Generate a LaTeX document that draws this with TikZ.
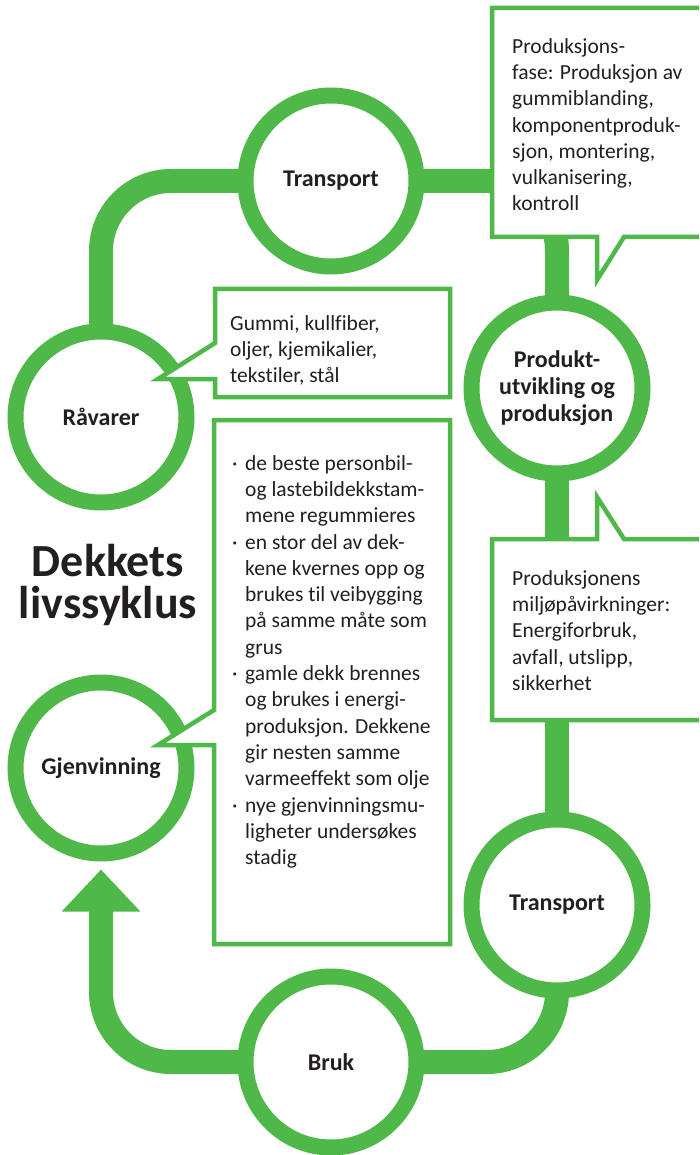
\documentclass[tikz,border=0pt]{standalone}
\usepackage{fontspec}
\setmainfont{Carlito}[Ligatures={NoCommon}]
\usepackage{tikz}
\usetikzlibrary{arrows.meta}

\definecolor{tiregreen}{RGB}{78,184,72}
\definecolor{inkblack}{RGB}{35,31,32}

\pgfdeclarelayer{background}
\pgfsetlayers{background,main}

\newcommand{\bul}{\makebox[13pt][l]{·}}
\newcommand{\ind}{\hspace*{13pt}}

\begin{document}
\begin{tikzpicture}[
    x=1pt, y=-1pt,
    stage/.style={circle, draw=tiregreen, line width=16pt, fill=white, minimum size=171pt, inner sep=0pt, align=center, text=inkblack, font=\fontsize{24}{27}\selectfont\bfseries},
    track/.style={draw=tiregreen, line width=24pt, rounded corners=70pt},
    bubble/.style={draw=tiregreen, line width=4.5pt, fill=white},
    bubbletext/.style={anchor=north west, inner sep=0pt, align=left, text=inkblack, font=\fontsize{21.5}{26.3}\selectfont},
    headline/.style={align=center, inner sep=0pt, text=inkblack, font=\fontsize{46}{42}\selectfont\bfseries}
]
\useasboundingbox (0,0) rectangle (699,1155);
\clip (0,0) rectangle (699,1155);

% Stages of the cycle
\node[stage] (transporttop) at (331,181) {Transport};
\node[stage] (ravarer) at (101,417) {Råvarer};
\node[stage] (produkt) at (557,388) {Produkt-\\utvikling og\\produksjon};
\node[stage] (transportbot) at (557,905) {Transport};
\node[stage] (bruk) at (331,1062) {Bruk};
\node[stage] (gjenvinning) at (101,768) {Gjenvinning};

% Track between the stages
\begin{pgfonlayer}{background}
\draw[track] (transporttop.center) -| (ravarer.center);
\draw[track] (transporttop.center) -| (produkt.center);
\draw[track] (produkt.center) -- (transportbot.center);
\draw[track] (transportbot.center) |- (bruk.center);
\draw[track, -{Triangle[length=42pt, width=76pt]}] (bruk.center) -| ([yshift=-8pt]gjenvinning.south);
\end{pgfonlayer}

% Callout boxes
\draw[bubble] (492,8) -- (712,8) -- (712,237) -- (624,237) -- (597,280) -- (597,237) -- (492,237) -- cycle;
\draw[bubble] (215,289) -- (450,289) -- (450,397) -- (215,397) -- (215,379) -- (158,379) -- (215,343) -- cycle;
\draw[bubble] (214,420) -- (450,420) -- (450,944) -- (214,944) -- (214,745) -- (158,745) -- (214,710) -- cycle;
\draw[bubble] (492,539) -- (597,539) -- (597,497) -- (624,539) -- (712,539) -- (712,720) -- (492,720) -- cycle;

% Callout texts
\node[bubbletext] (fasetext) at (512,38) {Produksjons-\\fase: Produksjon av\\gummiblanding,\\komponentproduk-\\sjon, montering,\\vulkanisering,\\kontroll};
\node[bubbletext] (ravaretext) at (230,315) {Gummi, kullfiber,\\oljer, kjemikalier,\\tekstiler, stål};
\node[bubbletext] (gjenvinningtext) at (232,455) {\bul de beste personbil-\\\ind og lastebildekkstam-\\\ind mene regummieres\\\bul en stor del av dek-\\\ind kene kvernes opp og\\\ind brukes til veibygging\\\ind på samme måte som\\\ind grus\\\bul gamle dekk brennes\\\ind og brukes i energi-\\\ind produksjon. Dekkene\\\ind gir nesten samme\\\ind varmeeffekt som olje\\\bul nye gjenvinningsmu-\\\ind ligheter undersøkes\\\ind stadig};
\node[bubbletext] (miljotext) at (512,570) {Produksjonens\\miljøpåvirkninger:\\Energiforbruk,\\avfall, utslipp,\\sikkerhet};

% Title
\node[headline] (titel) at (108,585) {Dekkets\\livssyklus};

\end{tikzpicture}
\end{document}
